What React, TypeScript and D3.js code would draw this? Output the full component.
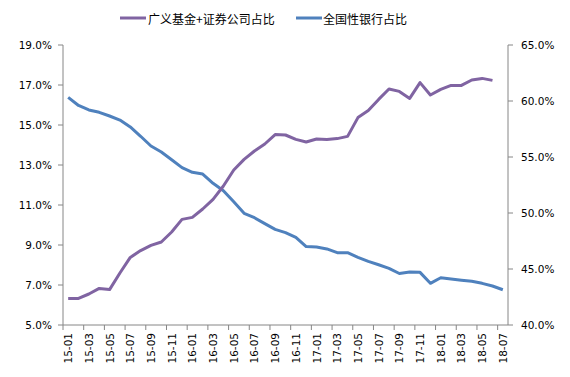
import React from "react";
import * as d3 from "d3";

const categories = [
  "15-01","15-02","15-03","15-04","15-05","15-06","15-07","15-08","15-09","15-10","15-11","15-12",
  "16-01","16-02","16-03","16-04","16-05","16-06","16-07","16-08","16-09","16-10","16-11","16-12",
  "17-01","17-02","17-03","17-04","17-05","17-06","17-07","17-08","17-09","17-10","17-11","17-12",
  "18-01","18-02","18-03","18-04","18-05","18-06","18-07",
];

// 广义基金+证券公司占比 (left axis, %)
const fundShare = [
  6.33, 6.33, 6.55, 6.83, 6.77, 7.6, 8.38, 8.72, 8.98, 9.15, 9.65, 10.28,
  10.38, 10.8, 11.28, 11.95, 12.75, 13.28, 13.7, 14.05, 14.52, 14.5, 14.28, 14.15,
  14.3, 14.27, 14.32, 14.43, 15.37, 15.72, 16.28, 16.8, 16.68, 16.33, 17.12, 16.5,
  16.78, 16.98, 16.98, 17.25, 17.33, 17.23,
];

// 全国性银行占比 (right axis, %)
const bankShare = [
  60.33, 59.6, 59.2, 58.99, 58.66, 58.3, 57.68, 56.85, 55.98, 55.45, 54.76, 54.05,
  53.63, 53.48, 52.65, 51.99, 51.0, 49.97, 49.58, 49.05, 48.54, 48.25, 47.83, 47.0,
  46.96, 46.79, 46.46, 46.46, 46.04, 45.68, 45.38, 45.06, 44.6, 44.73, 44.7, 43.72,
  44.22, 44.1, 43.99, 43.9, 43.72, 43.48, 43.15,
];

const leftTicks = [5, 7, 9, 11, 13, 15, 17, 19];
const rightTicks = [40, 45, 50, 55, 60, 65];

const seriesNames = ["广义基金+证券公司占比", "全国性银行占比"];
const colors = ["#8064A2", "#4F81BD"];

export default function App() {
  const W = 570, H = 377;
  const left = 63, right = 508, top = 45, bottom = 325;
  const x = d3.scaleBand<string>().domain(categories).range([left, right]).paddingInner(0).paddingOuter(0);
  const bw = x.bandwidth();
  const cx = (i: number) => (x(categories[i]) as number) + bw / 2;
  const yL = d3.scaleLinear().domain([5, 19]).range([bottom, top]);
  const yR = d3.scaleLinear().domain([40, 65]).range([bottom, top]);

  const lineL = d3.line<number>().x((_, i) => cx(i)).y((d) => yL(d));
  const lineR = d3.line<number>().x((_, i) => cx(i)).y((d) => yR(d));

  const axisColor = "#868686";
  const tickFont = "DejaVu Sans, Verdana, sans-serif";
  const cjkFont = "'Noto Sans CJK SC', sans-serif";

  return (
    <svg width={W} height={H} style={{ position: "absolute", left: 0, top: 0, background: "#fff" }}>
      {/* legend */}
      <g>
        <line x1={120} x2={146} y1={18} y2={18} stroke={colors[0]} strokeWidth={3} />
        <text x={148} y={18} dominantBaseline="central" fontSize={12} fontFamily={cjkFont} fill="#000">
          {seriesNames[0]}
        </text>
        <line x1={296} x2={322} y1={18} y2={18} stroke={colors[1]} strokeWidth={3} />
        <text x={323} y={18} dominantBaseline="central" fontSize={12} fontFamily={cjkFont} fill="#000">
          {seriesNames[1]}
        </text>
      </g>

      {/* left axis */}
      <line x1={left} x2={left} y1={top} y2={bottom} stroke={axisColor} />
      {leftTicks.map((t) => (
        <g key={"l" + t}>
          <line x1={left - 5} x2={left} y1={yL(t)} y2={yL(t)} stroke={axisColor} />
          <text x={52} y={yL(t)} textAnchor="end" dominantBaseline="central" fontSize={10.5} fontFamily={tickFont} fill="#000">
            {t.toFixed(1) + "%"}
          </text>
        </g>
      ))}

      {/* right axis */}
      <line x1={right} x2={right} y1={top} y2={bottom} stroke={axisColor} />
      {rightTicks.map((t) => (
        <g key={"r" + t}>
          <line x1={right} x2={right + 5} y1={yR(t)} y2={yR(t)} stroke={axisColor} />
          <text x={521} y={yR(t)} textAnchor="start" dominantBaseline="central" fontSize={10.5} fontFamily={tickFont} fill="#000">
            {t.toFixed(1) + "%"}
          </text>
        </g>
      ))}

      {/* bottom axis */}
      <line x1={left} x2={right} y1={bottom} y2={bottom} stroke={axisColor} />
      {categories.map((c, i) =>
        i % 2 === 0 ? (
          <g key={c}>
            <line x1={x(c) as number} x2={x(c) as number} y1={bottom} y2={bottom + 5} stroke={axisColor} />
            <text
              transform={`translate(${cx(i)},${bottom + 8}) rotate(-90)`}
              textAnchor="end"
              dominantBaseline="central"
              fontSize={10.5}
              fontFamily={tickFont}
              fill="#000"
            >
              {c}
            </text>
          </g>
        ) : null
      )}

      {/* lines */}
      <path d={lineR(bankShare) || ""} fill="none" stroke={colors[1]} strokeWidth={3} strokeLinejoin="round" />
      <path d={lineL(fundShare) || ""} fill="none" stroke={colors[0]} strokeWidth={3} strokeLinejoin="round" />
    </svg>
  );
}
